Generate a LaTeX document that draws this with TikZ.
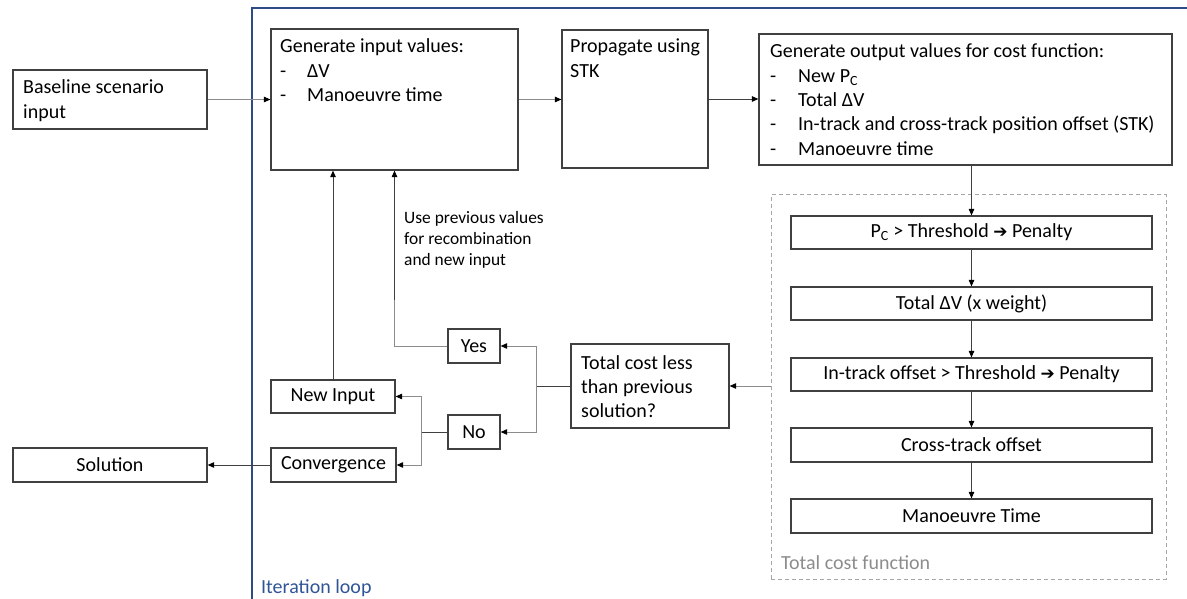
\documentclass[tikz,border=0pt]{standalone}
\usepackage{fontspec}
\setmainfont{Carlito}
\newfontfamily\djv{DejaVu Sans}
\usetikzlibrary{arrows.meta}
\definecolor{boxc}{HTML}{404040}
\definecolor{darkl}{HTML}{404040}
\definecolor{grayl}{HTML}{8C8C8C}
\definecolor{loopblue}{HTML}{2E4A87}
\definecolor{looptxt}{HTML}{2F5597}
\definecolor{dashc}{HTML}{A6A6A6}
\definecolor{labgray}{HTML}{8C8C8C}
\newcommand\mltext[1]{\begin{tabular}[t]{@{}l@{}}#1\end{tabular}}
\newcommand\bul[2]{\makebox[#1][l]{-}#2}
\newcommand\harr{{\djv\fontsize{17}{17}\selectfont ➔}}
\begin{document}
\begin{tikzpicture}[x=1pt,y=-1pt,
  box/.style={draw=boxc,line width=1.2pt,rectangle,inner sep=0pt,
    font=\fontsize{20}{24.3}\selectfont},
  txt/.style={inner sep=0pt,anchor=base west,font=\fontsize{20}{24.3}\selectfont},
  small/.style={inner sep=0pt,anchor=base west,font=\fontsize{17.4}{21.5}\selectfont},
  gconn/.style={draw=grayl,line width=0.9pt},
  dconn/.style={draw=darkl,line width=0.9pt},
  tip/.style={-{Triangle[length=6.5pt,width=5.5pt,fill=black,color=black]}},
]
\useasboundingbox (0,0) rectangle (1187,599);

% Iteration loop frame
\draw[loopblue,line width=1.4pt] (1187,8) -- (252,8) -- (252,599);
\node[txt,text=looptxt] (looplbl) at (261,593) {Iteration loop};

% Total cost function frame
\node[draw=dashc,line width=1pt,dash pattern=on 4pt off 3pt,inner sep=0pt,
      minimum width=395pt,minimum height=384pt] (frame) at (968.5,387) {};
\node[txt,text=labgray] (framelbl) at (781,569) {Total cost function};

% Top row
\node[box,minimum width=194pt,minimum height=59pt] (base) at (110,99.5) {};
\node[txt] (basetxt) at (23,94) {\mltext{Baseline scenario\\input}};

\node[box,minimum width=247pt,minimum height=141pt] (gen) at (394.5,99.5) {};
\node[txt] (gentxt) at (280,53) {\mltext{Generate input values:\\
  \bul{27pt}{ΔV}\\
  \bul{27pt}{Manoeuvre time}}};

\node[box,minimum width=146pt,minimum height=138pt] (prop) at (635,99) {};
\node[txt] (proptxt) at (570,53) {\mltext{Propagate using\\STK}};

\node[box,minimum width=413pt,minimum height=131pt] (out) at (965.5,99.5) {};
\node[txt] (outtxt) at (770,58) {\mltext{Generate output values for cost function:\\
  \bul{28pt}{New P\textsubscript{C}}\\
  \bul{28pt}{Total ΔV}\\
  \bul{28pt}{In-track and cross-track position offset (STK)}\\
  \bul{28pt}{Manoeuvre time}}};

% Cost function chain
\node[box,minimum width=361pt,minimum height=33pt] (pc) at (971.5,232.5) {P\textsubscript{C} > Threshold \harr{} Penalty};
\node[box,minimum width=361pt,minimum height=33pt] (dv) at (971.5,303.5) {Total ΔV (x weight)};
\node[box,minimum width=361pt,minimum height=33pt] (itr) at (971.5,374.5) {In-track offset > Threshold \harr{} Penalty};
\node[box,minimum width=361pt,minimum height=34pt] (ctr) at (971.5,445) {Cross-track offset};
\node[box,minimum width=361pt,minimum height=34pt] (mt) at (971.5,516) {Manoeuvre Time};

% Decision
\node[box,minimum width=158pt,minimum height=84pt] (tot) at (650,386) {};
\node[txt] (tottxt) at (581,369) {\mltext{Total cost less\\than previous\\solution?}};

\node[box,minimum width=52pt,minimum height=34pt] (yes) at (474,346) {Yes};
\node[box,minimum width=52pt,minimum height=34pt] (no) at (474,432) {No};

\node[box,minimum width=124pt,minimum height=33pt] (newin) at (333,396.5) {New Input};
\node[box,minimum width=125pt,minimum height=34pt] (conv) at (333.5,465) {Convergence};
\node[box,minimum width=194pt,minimum height=34pt] (sol) at (110,465) {Solution};

\node[small] (uselbl) at (404,223) {\mltext{Use previous values\\for recombination\\and new input}};

\coordinate (br) at (536,386);
\coordinate (br2) at (421,432);

% Connectors
\draw[gconn,tip] (base.east) -- (base.east -| gen.west);
\draw[gconn,tip] (gen.east) -- (gen.east -| prop.west);
\draw[dconn,tip] (prop.east) -- (prop.east -| out.west);
\draw[dconn,tip] (pc.north |- out.south) -- (pc.north);
\draw[dconn,tip] (pc.south) -- (dv.north);
\draw[dconn,tip] (dv.south) -- (itr.north);
\draw[dconn,tip] (itr.south) -- (ctr.north);
\draw[dconn,tip] (ctr.south) -- (mt.north);
\draw[gconn,tip] (tot.east -| frame.west) -- (tot.east);
\draw[dconn] (tot.west) -- (br);
\draw[gconn,tip] (br) |- (yes.east);
\draw[gconn,tip] (br) |- (no.east);
\draw[gconn] (yes.west) -| (gen.south |- 0,300);
\draw[dconn,tip] (gen.south |- 0,300) -- (gen.south);
\draw[dconn] (no.west) -- (br2);
\draw[gconn,tip] (br2) |- (newin.east);
\draw[gconn,tip] (br2) |- (conv.east);
\draw[dconn,tip] (newin.north) -- (newin.north |- gen.south);
\draw[dconn,tip] (conv.west) -- (sol.east);
\end{tikzpicture}
\end{document}
